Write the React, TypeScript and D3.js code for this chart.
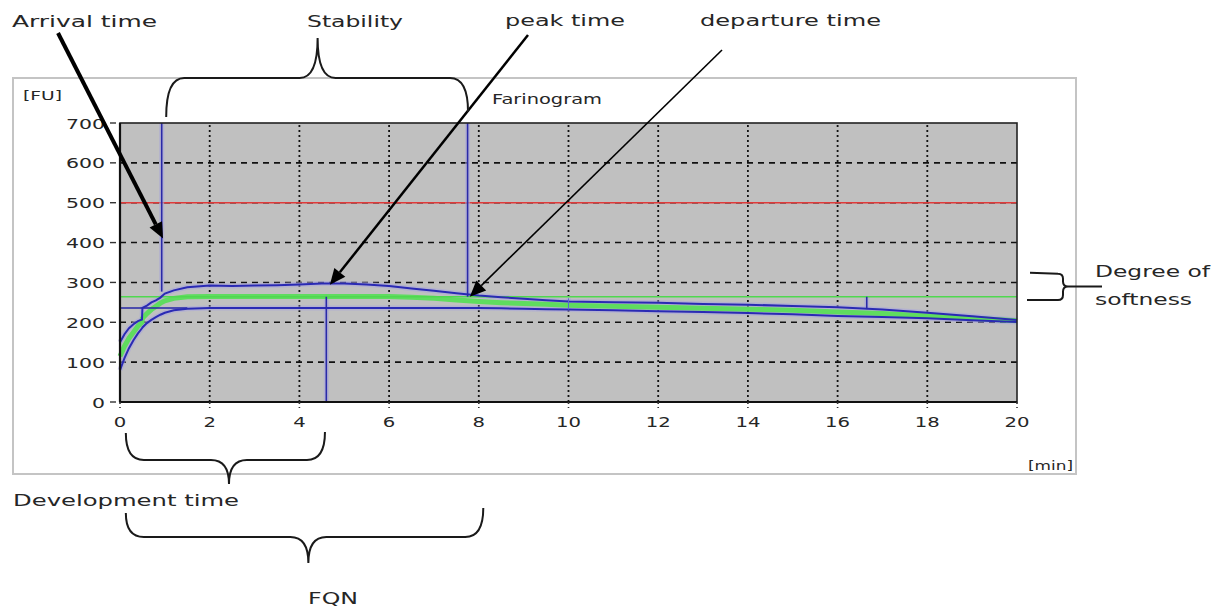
import React, { useEffect, useRef } from 'react';
import * as d3 from 'd3';

// farinogram readings, minutes vs FU
const time = [0, 0.1, 0.2, 0.3, 0.4, 0.49, 0.5, 0.6, 0.7, 0.8, 0.9, 1.0, 1.2, 1.5, 2, 2.5, 3, 3.5, 4, 4.5, 5, 5.5, 6, 6.5, 7, 7.5, 8, 8.5, 9, 9.5, 10, 11, 12, 13, 14, 15, 16, 17, 18, 19, 20];
const upperFU = [150, 170, 185, 195, 203, 207, 236, 242, 250, 255, 262, 272, 280, 288, 292, 291, 292, 293, 295, 297, 297, 295, 291, 285, 279, 273, 267, 263, 259, 255, 252, 250, 249, 246, 244, 241, 238, 232, 224, 215, 206];
const lowerFU = [80, 110, 135, 155, 172, 185, 187, 198, 206, 213, 219, 224, 230, 234, 236, 236, 236, 236, 236, 236, 236, 236, 236, 236, 236, 236, 236, 235, 234, 233, 232, 230, 228, 226, 223, 220, 216, 213, 210, 205, 201];
const meanFU = [115, 140, 160, 175, 190, 200, 210, 222, 232, 240, 248, 254, 260, 264, 265, 265, 265, 265, 265, 265, 265, 265, 265, 263, 260, 256, 252, 249, 247, 245, 243, 240, 238, 235, 233, 230, 226, 222, 216, 210, 204];

const xTicks = [0, 2, 4, 6, 8, 10, 12, 14, 16, 18, 20];
const yTicks = [0, 100, 200, 300, 400, 500, 600, 700];

const consistencyLine = 500;
const softnessLine = 264;
const baseLine = 236;

// vertical markers: time, from FU, to FU
const markerTime = [0.93, 4.6, 7.75, 10, 16.65];
const markerFrom = [700, 264, 700, 260, 264];
const markerTo = [277, 0, 264, 232, 233];

const FONT = '"DejaVu Sans", Verdana, sans-serif';
const INK = '#262626';

export default function App() {
  const ref = useRef<SVGSVGElement>(null);

  useEffect(() => {
    const svg = d3.select(ref.current);
    svg.selectAll('*').remove();

    const x = d3.scaleLinear().domain([0, 20]).range([120, 1017]);
    const y = d3.scaleLinear().domain([0, 700]).range([402, 123]);

    const label = (t: string, px: number, py: number, size: number, len: number, anchor = 'start') => {
      svg.append('text')
        .attr('x', px).attr('y', py)
        .attr('font-family', FONT).attr('font-size', size)
        .attr('fill', INK)
        .attr('text-anchor', anchor)
        .attr('textLength', len).attr('lengthAdjust', 'spacingAndGlyphs')
        .text(t);
    };

    // outer panel
    svg.append('rect').attr('x', 13).attr('y', 78).attr('width', 1063).attr('height', 396)
      .attr('fill', '#fff').attr('stroke', '#c4c4c4').attr('stroke-width', 2);

    // plot background
    svg.append('rect').attr('x', x(0)).attr('y', y(700))
      .attr('width', x(20) - x(0)).attr('height', y(0) - y(700))
      .attr('fill', '#c0c0c0');

    // grid
    svg.selectAll('.hgrid').data(yTicks.filter(d => d > 0 && d < 700)).enter().append('line')
      .attr('x1', x(0)).attr('x2', x(20)).attr('y1', d => y(d)).attr('y2', d => y(d))
      .attr('stroke', '#111').attr('stroke-width', 1.6).attr('stroke-dasharray', '6,5');
    svg.selectAll('.vgrid').data(xTicks.filter(d => d > 0 && d < 20)).enter().append('line')
      .attr('x1', d => x(d)).attr('x2', d => x(d)).attr('y1', y(0)).attr('y2', y(700))
      .attr('stroke', '#111').attr('stroke-width', 1.8).attr('stroke-dasharray', '2,3');

    // reference lines
    svg.append('line').attr('x1', x(0)).attr('x2', x(20))
      .attr('y1', y(consistencyLine)).attr('y2', y(consistencyLine))
      .attr('stroke', '#e03a3a').attr('stroke-width', 1.6);

    const idx = d3.range(time.length);
    const line = (vals: number[]) => d3.line<number>().x(i => x(time[i])).y(i => y(vals[i]))(idx) as string;

    // soft halo under blue marks
    const halo = '#a7a4dc';
    [upperFU, lowerFU].forEach(v => {
      svg.append('path').attr('d', line(v)).attr('fill', 'none')
        .attr('stroke', halo).attr('stroke-width', 5).attr('stroke-opacity', 0.55);
    });
    markerTime.forEach((t, i) => {
      svg.append('line').attr('x1', x(t)).attr('x2', x(t))
        .attr('y1', y(markerFrom[i])).attr('y2', y(markerTo[i]))
        .attr('stroke', halo).attr('stroke-width', 5).attr('stroke-opacity', 0.55);
    });

    // mean curve (green band)
    svg.append('path').attr('d', line(meanFU)).attr('fill', 'none')
      .attr('stroke', '#5fdc5f').attr('stroke-width', 5);

    svg.append('line').attr('x1', x(0)).attr('x2', x(20))
      .attr('y1', y(softnessLine)).attr('y2', y(softnessLine))
      .attr('stroke', '#4fd84f').attr('stroke-width', 1.6);

    svg.append('line').attr('x1', x(0)).attr('x2', x(1.5))
      .attr('y1', y(baseLine)).attr('y2', y(baseLine))
      .attr('stroke', '#2626a6').attr('stroke-width', 1.6);

    [upperFU, lowerFU].forEach(v => {
      svg.append('path').attr('d', line(v)).attr('fill', 'none')
        .attr('stroke', '#2a2ab4').attr('stroke-width', 2);
    });

    markerTime.forEach((t, i) => {
      svg.append('line').attr('x1', x(t)).attr('x2', x(t))
        .attr('y1', y(markerFrom[i])).attr('y2', y(markerTo[i]))
        .attr('stroke', i === 3 ? '#5a6ad0' : '#2a2aa8').attr('stroke-width', i === 3 ? 1 : 1.6);
    });

    // plot border
    svg.append('rect').attr('x', x(0)).attr('y', y(700))
      .attr('width', x(20) - x(0)).attr('height', y(0) - y(700))
      .attr('fill', 'none').attr('stroke', '#222').attr('stroke-width', 1.6);
    svg.append('line').attr('x1', x(0)).attr('x2', x(0)).attr('y1', y(0)).attr('y2', y(700))
      .attr('stroke', '#111').attr('stroke-width', 2.2);
    svg.append('line').attr('x1', x(0)).attr('x2', x(20)).attr('y1', y(0)).attr('y2', y(0))
      .attr('stroke', '#111').attr('stroke-width', 2.2);

    // ticks and labels
    yTicks.forEach(v => {
      svg.append('line').attr('x1', x(0) - 10).attr('x2', x(0)).attr('y1', y(v)).attr('y2', y(v))
        .attr('stroke', '#333').attr('stroke-width', 1.4).attr('stroke-dasharray', '6,5');
      const s = String(v);
      label(s, 105, y(v) + 5.5, 14, s.length * 13, 'end');
    });
    xTicks.forEach(v => {
      svg.append('line').attr('x1', x(v)).attr('x2', x(v)).attr('y1', y(0)).attr('y2', y(0) + 6)
        .attr('stroke', '#333').attr('stroke-width', 1.6).attr('stroke-dasharray', '2,3');
      const s = String(v);
      label(s, x(v), 427, 14.5, s.length * 12.5, 'middle');
    });

    label('[FU]', 23, 100, 13, 39);
    label('[min]', 1028, 470, 12, 45);
    label('Farinogram', 492, 104, 13.5, 110);

    // annotation arrows
    const arrow = (x0: number, y0: number, x1: number, y1: number, w: number, hl: number, hw: number) => {
      const a = Math.atan2(y1 - y0, x1 - x0);
      const bx = x1 - hl * Math.cos(a), by = y1 - hl * Math.sin(a);
      svg.append('line').attr('x1', x0).attr('y1', y0).attr('x2', bx).attr('y2', by)
        .attr('stroke', '#000').attr('stroke-width', w);
      const px = -Math.sin(a) * hw, py = Math.cos(a) * hw;
      svg.append('path')
        .attr('d', `M${x1},${y1}L${bx + px},${by + py}L${bx - px},${by - py}Z`)
        .attr('fill', '#000');
    };
    arrow(58, 33, x(0.96), y(410), 4, 16, 7);
    arrow(528, 35, x(4.68), y(294), 2.5, 16, 7);
    arrow(722, 50, x(7.8), y(264), 1.6, 16, 7);

    label('Arrival time', 12, 27, 15.5, 145);
    label('Stability', 307, 27, 15.5, 96);
    label('peak time', 505, 26, 15.5, 120);
    label('departure time', 700, 26, 15.5, 181);

    // braces
    const brace = (x1: number, x2: number, xm: number, e1: number, e2: number, yl: number, tip: number) => {
      const r = 18;
      const d = `M${x1},${e1}Q${x1},${yl} ${x1 + r},${yl}L${xm - r},${yl}Q${xm},${yl} ${xm},${tip}`
        + `Q${xm},${yl} ${xm + r},${yl}L${x2 - r},${yl}Q${x2},${yl} ${x2},${e2}`;
      svg.append('path').attr('d', d).attr('fill', 'none')
        .attr('stroke', '#1a1a1a').attr('stroke-width', 2);
    };
    brace(x(1.03), x(7.76), (x(1.03) + x(7.76)) / 2 + 0.5, 117, 112, 78, 38);
    brace(x(0.13), x(4.57), x(2.43), 433, 432, 460, 484);
    brace(x(0.13), x(8.1), x(4.2), 513, 508, 537, 563);

    label('Development time', 13, 506, 16, 226);
    label('FQN', 308, 604, 15, 50);

    // degree of softness bracket
    const yt = y(324), yb = y(256), ym = y(290);
    svg.append('path')
      .attr('d', `M1030,${yt}L1058,${yt + 1}Q1063,${yt + 1} 1063,${yt + 6}L1063,${ym - 5}Q1063,${ym} 1068,${ym}L1102,${ym}`
        + `M1068,${ym}Q1063,${ym} 1063,${ym + 5}L1063,${yb - 5}Q1063,${yb} 1058,${yb}L1027,${yb}`)
      .attr('fill', 'none').attr('stroke', '#1a1a1a').attr('stroke-width', 2);
    label('Degree of', 1095, 277, 16, 115);
    label('softness', 1095, 305, 16, 97);
  }, []);

  return <svg ref={ref} width={1216} height={609} style={{ position: 'absolute', left: 0, top: 0, background: '#fff' }} />;
}
